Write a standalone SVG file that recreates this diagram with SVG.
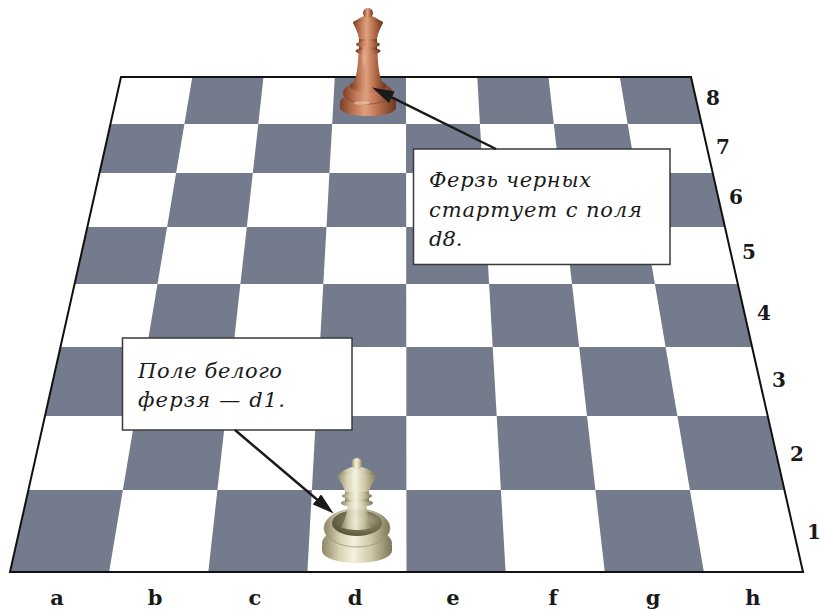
<svg xmlns="http://www.w3.org/2000/svg" width="820" height="609" viewBox="0 0 820 609">
<style>
.dark{fill:#747b8c}
.edge{fill:none;stroke:#111;stroke-width:2;stroke-linejoin:miter}
.lbl{font-family:"DejaVu Serif","Liberation Serif",serif;font-weight:bold;font-size:20px;fill:#1a1a1a;text-anchor:middle}
.file{font-size:21px}
.note{font-family:"DejaVu Serif","Liberation Serif",serif;font-style:italic;font-size:21px;fill:#1a1a1a}
.box{fill:#fff;stroke:#3a3a3a;stroke-width:1.5}
.arrow{fill:none;stroke:#1a1a1a;stroke-width:2.5;marker-end:url(#ah)}
.bq{fill:url(#brown)}
.wq{fill:url(#ivory)}
</style>
<defs>
<marker id="ah" viewBox="0 0 22 13" refX="9" refY="6.5" markerWidth="22" markerHeight="13" markerUnits="userSpaceOnUse" orient="auto">
<path d="M0,0 L22,6.5 L0,13 Z" fill="#1a1a1a"/>
</marker>
<linearGradient id="brown" x1="0" y1="0" x2="1" y2="0">
<stop offset="0" stop-color="#7a3f27"/>
<stop offset="0.25" stop-color="#c07856"/>
<stop offset="0.45" stop-color="#dfa080"/>
<stop offset="0.7" stop-color="#b76c4a"/>
<stop offset="1" stop-color="#6c361f"/>
</linearGradient>
<linearGradient id="ivory" x1="0" y1="0" x2="1" y2="0">
<stop offset="0" stop-color="#8c8666"/>
<stop offset="0.25" stop-color="#d8d3b4"/>
<stop offset="0.45" stop-color="#f4f1de"/>
<stop offset="0.7" stop-color="#cec8a6"/>
<stop offset="1" stop-color="#7c7658"/>
</linearGradient>
<radialGradient id="cup" cx="0.6" cy="0.4" r="0.65">
<stop offset="0" stop-color="#c2bc9c"/>
<stop offset="0.55" stop-color="#7a7558"/>
<stop offset="1" stop-color="#55513a"/>
</radialGradient>
</defs>

<g id="board">
<polygon points="121,77 691,77 803,572 10,572" fill="#fff"/>
<g id="dark-squares">
<polygon class="dark" points="192.3,77 263.5,77 258.3,124 184.4,124"/>
<polygon class="dark" points="334.8,77 406,77 406,124 332.2,124"/>
<polygon class="dark" points="477.3,77 548.5,77 553.8,124 479.9,124"/>
<polygon class="dark" points="619.8,77 691,77 701.6,124 627.7,124"/>
<polygon class="dark" points="110.5,124 184.4,124 176.1,173 99.5,173"/>
<polygon class="dark" points="258.3,124 332.2,124 329.4,173 252.8,173"/>
<polygon class="dark" points="406,124 479.9,124 482.8,173 406.1,173"/>
<polygon class="dark" points="553.8,124 627.7,124 636.1,173 559.4,173"/>
<polygon class="dark" points="176.1,173 252.8,173 246.8,227 167.1,227"/>
<polygon class="dark" points="329.4,173 406.1,173 406.2,227 326.5,227"/>
<polygon class="dark" points="482.8,173 559.4,173 565.5,227 485.9,227"/>
<polygon class="dark" points="636.1,173 712.7,173 724.9,227 645.2,227"/>
<polygon class="dark" points="87.4,227 167.1,227 157.5,284 74.6,284"/>
<polygon class="dark" points="246.8,227 326.5,227 323.3,284 240.4,284"/>
<polygon class="dark" points="406.2,227 485.9,227 489.1,284 406.2,284"/>
<polygon class="dark" points="565.5,227 645.2,227 654.9,284 572,284"/>
<polygon class="dark" points="157.5,284 240.4,284 233.4,347 146.9,347"/>
<polygon class="dark" points="323.3,284 406.2,284 406.3,347 319.8,347"/>
<polygon class="dark" points="489.1,284 572,284 579.2,347 492.7,347"/>
<polygon class="dark" points="654.9,284 737.8,284 752.1,347 665.6,347"/>
<polygon class="dark" points="60.5,347 146.9,347 135.3,416 45,416"/>
<polygon class="dark" points="233.4,347 319.8,347 316,416 225.7,416"/>
<polygon class="dark" points="406.3,347 492.7,347 496.7,416 406.3,416"/>
<polygon class="dark" points="579.2,347 665.6,347 677.4,416 587,416"/>
<polygon class="dark" points="135.3,416 225.7,416 217.4,490 122.9,490"/>
<polygon class="dark" points="316,416 406.3,416 406.4,490 311.9,490"/>
<polygon class="dark" points="496.7,416 587,416 595.4,490 500.9,490"/>
<polygon class="dark" points="677.4,416 767.7,416 784.5,490 689.9,490"/>
<polygon class="dark" points="28.4,490 122.9,490 109.1,572 10,572"/>
<polygon class="dark" points="217.4,490 311.9,490 307.4,572 208.3,572"/>
<polygon class="dark" points="406.4,490 500.9,490 505.6,572 406.5,572"/>
<polygon class="dark" points="595.4,490 689.9,490 703.9,572 604.8,572"/>
</g>
<polygon class="edge" points="121,77 691,77 803,572 10,572"/>
</g>

<g id="queen-black">
<path class="bq" d="M340,102 L340,108 A28,8 0 0 0 396,108 L396,102 Z"/>
<ellipse class="bq" cx="368" cy="102" rx="28" ry="9"/>
<ellipse class="bq" cx="368" cy="93" rx="25" ry="11" stroke="#8a4a2e" stroke-width="0.8"/>
<ellipse class="bq" cx="368" cy="86" rx="18" ry="7"/>
<path class="bq" d="M351,88 C357,78 358,66 358.5,52 L377.5,52 C378,66 379,78 385,88 Z"/>
<ellipse class="bq" cx="368" cy="51" rx="12.5" ry="3.5"/>
<rect class="bq" x="359" y="38" width="18" height="12"/>
<ellipse class="bq" cx="368" cy="44.5" rx="12" ry="3.5"/>
<path class="bq" d="M359,39 C358,32 355,27 353,23 L383,23 C381,27 378,32 377,39 Z"/>
<ellipse class="bq" cx="368" cy="22.5" rx="15" ry="3.5"/>
<path class="bq" d="M355,22 C357,19 362,17 364,16 L372,16 C374,17 379,19 381,22 Z"/>
<circle class="bq" cx="368" cy="13" r="5"/>
<ellipse cx="362" cy="103" rx="8" ry="1.6" fill="#f2c9b2" opacity="0.7"/>
<ellipse cx="364" cy="56" rx="2" ry="10" fill="#eab79a" opacity="0.5"/>
</g>

<g id="queen-white">
<path class="wq" d="M322,545 L322,551 A35,12 0 0 0 392,551 L392,545 Z"/>
<ellipse class="wq" cx="357" cy="543" rx="35" ry="16"/>
<ellipse class="wq" cx="357" cy="528" rx="33" ry="19" stroke="#9a9474" stroke-width="0.8"/>
<ellipse cx="357" cy="523" rx="25" ry="13" fill="url(#cup)"/>
<path class="wq" d="M341,527 C345,521 347,513 348,503 L366,503 C367,513 369,521 373,527 C366,531 348,531 341,527 Z" opacity="0.9"/>
<ellipse class="wq" cx="357" cy="503" rx="16" ry="4"/>
<rect class="wq" x="345" y="491" width="24" height="11"/>
<ellipse class="wq" cx="357" cy="496" rx="15" ry="3.5"/>
<path class="wq" d="M345,492 C344,486 339,480 337,476 L377,476 C375,480 370,486 369,492 Z"/>
<ellipse class="wq" cx="357" cy="476" rx="20" ry="4"/>
<path class="wq" d="M339,475 C342,470 349,468 352,467 L362,467 C365,468 372,470 375,475 Z"/>
<circle class="wq" cx="357" cy="463.5" r="5.5"/>
</g>

<g id="callout-black">
<rect class="box" x="413.5" y="149" width="256.5" height="115.5"/>
<text class="note" x="429" y="187" textLength="162" lengthAdjust="spacing">Ферзь черных</text>
<text class="note" x="429" y="217" textLength="213" lengthAdjust="spacing">стартует с поля</text>
<text class="note" x="429" y="246">d8.</text>
</g>

<g id="callout-white">
<rect class="box" x="122.5" y="338" width="229.5" height="92"/>
<text class="note" x="138" y="378" textLength="144" lengthAdjust="spacing">Поле белого</text>
<text class="note" x="138" y="407" textLength="147" lengthAdjust="spacing">ферзя — d1.</text>
</g>

<g id="connectors">
<line class="arrow" x1="496" y1="149" x2="383.8" y2="93.3"/>
<line class="arrow" x1="235" y1="430" x2="323.8" y2="505.2"/>
</g>

<g id="rank-labels">
<text class="lbl" x="713" y="105">8</text>
<text class="lbl" x="723" y="154" font-size="24">7</text>
<text class="lbl" x="736" y="204">6</text>
<text class="lbl" x="749" y="259">5</text>
<text class="lbl" x="764" y="320">4</text>
<text class="lbl" x="779" y="387">3</text>
<text class="lbl" x="797" y="461">2</text>
<text class="lbl" x="814" y="539">1</text>
</g>

<g id="file-labels">
<text class="lbl file" x="57" y="605">a</text>
<text class="lbl file" x="155" y="605">b</text>
<text class="lbl file" x="255" y="605">c</text>
<text class="lbl file" x="355" y="605">d</text>
<text class="lbl file" x="453" y="605">e</text>
<text class="lbl file" x="553" y="605">f</text>
<text class="lbl file" x="653" y="605">g</text>
<text class="lbl file" x="753" y="605">h</text>
</g>
</svg>
